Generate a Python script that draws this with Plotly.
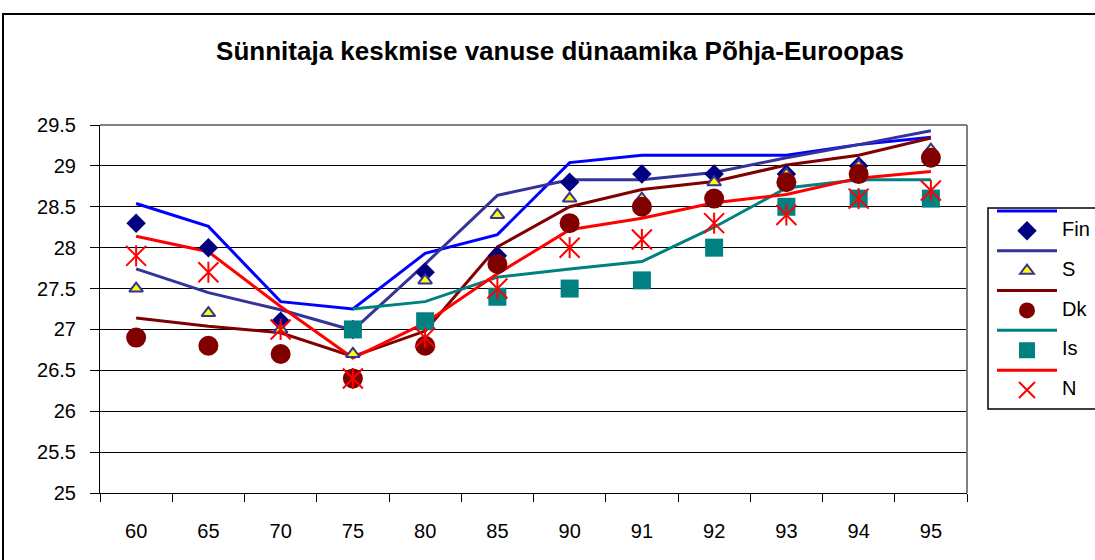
import plotly.graph_objects as go

# ---- data ----
categories = ["60", "65", "70", "75", "80", "85", "90", "91", "92", "93", "94", "95"]

fin_line = [28.54, 28.26, 27.34, 27.25, 27.93, 28.16, 29.04, 29.13, 29.13, 29.13, 29.26, 29.35]
s_line = [27.74, 27.45, 27.24, 26.99, 27.80, 28.64, 28.83, 28.83, 28.92, 29.10, 29.26, 29.43]
dk_line = [27.14, 27.04, 26.96, 26.67, 26.98, 28.01, 28.50, 28.71, 28.81, 29.01, 29.13, 29.34]
is_line = [None, None, None, 27.25, 27.34, 27.64, 27.74, 27.83, 28.25, 28.73, 28.83, 28.83]
n_line = [28.14, 27.95, 27.28, 26.65, 27.08, 27.68, 28.22, 28.36, 28.55, 28.65, 28.85, 28.93]

fin_pts = [28.3, 28.0, 27.1, 27.0, 27.7, 27.9, 28.8, 28.9, 28.9, 28.9, 29.0, 29.1]
s_pts = [27.5, 27.2, 27.0, 26.7, 27.6, 28.4, 28.6, 28.6, 28.8, 28.9, 29.0, 29.2]
dk_pts = [26.9, 26.8, 26.7, 26.4, 26.8, 27.8, 28.3, 28.5, 28.6, 28.8, 28.9, 29.1]
is_pts = [None, None, None, 27.0, 27.1, 27.4, 27.5, 27.6, 28.0, 28.5, 28.6, 28.6]
n_pts = [27.9, 27.7, 27.0, 26.4, 26.9, 27.5, 28.0, 28.1, 28.3, 28.4, 28.6, 28.7]

series_names = ["Fin", "S", "Dk", "Is", "N"]
title_text = "Sünnitaja keskmise vanuse dünaamika Põhja-Euroopas"
y_ticks = [25, 25.5, 26, 26.5, 27, 27.5, 28, 28.5, 29, 29.5]

FONT = "Arial, 'Liberation Sans', sans-serif"
TXT = 20  # text size


def legend_label(s):
    return f'<span style="font-size:{TXT}px">{s}</span>'


fig = go.Figure()

# lines
line_specs = [
    (fin_line, "#0000FF", 1),
    (s_line, "#333399", 3),
    (dk_line, "#800000", 5),
    (is_line, "#008080", 7),
    (n_line, "#FF0000", 9),
]
for vals, col, rank in line_specs:
    fig.add_trace(go.Scatter(
        x=categories, y=vals, mode="lines", name=" ",
        line=dict(color=col, width=3), legendrank=rank,
        connectgaps=False, hoverinfo="skip"))

# markers
fig.add_trace(go.Scatter(
    x=categories, y=fin_pts, mode="markers", name=legend_label(series_names[0]), legendrank=2,
    marker=dict(symbol="diamond", size=15, color="#000080",
                line=dict(color="#000080", width=0))))
fig.add_trace(go.Scatter(
    x=categories, y=s_pts, mode="markers", name=legend_label(series_names[1]), legendrank=4,
    marker=dict(symbol="triangle-up", size=12, color="#FFFF00",
                line=dict(color="#333399", width=2))))
fig.add_trace(go.Scatter(
    x=categories, y=dk_pts, mode="markers", name=legend_label(series_names[2]), legendrank=6,
    marker=dict(symbol="circle", size=20, color="#800000",
                line=dict(color="#800000", width=0))))
fig.add_trace(go.Scatter(
    x=categories, y=is_pts, mode="markers", name=legend_label(series_names[3]), legendrank=8,
    marker=dict(symbol="square", size=18, color="#008080",
                line=dict(color="#008080", width=0))))
fig.add_trace(go.Scatter(
    x=categories, y=n_pts, mode="markers", name=legend_label(series_names[4]), legendrank=10,
    legendgroup="N",
    marker=dict(symbol="x-thin-open", size=20, color="#FF0000",
                line=dict(color="#FF0000", width=2))))
fig.add_trace(go.Scatter(
    x=categories, y=n_pts, mode="markers", name="N", showlegend=False,
    legendgroup="N",
    marker=dict(symbol="line-ns-open", size=15, color="#FF0000",
                line=dict(color="#FF0000", width=2))))

# plot area geometry (px)
L, R, T, B = 100, 967, 125, 493
W, H = 1095, 560
pw, ph = R - L, B - T


def px_x(x):
    return (x - L) / pw


def px_y(y):
    return (B - y) / ph


shapes = [
    # outer chart border
    dict(type="rect", xref="paper", yref="paper",
         x0=px_x(3), x1=px_x(1110), y0=px_y(14), y1=px_y(575),
         line=dict(color="black", width=2), layer="below"),
    # gray top/right plot area border
    dict(type="line", xref="paper", yref="paper", x0=0, x1=1, y0=1, y1=1,
         line=dict(color="#808080", width=2), layer="above"),
    dict(type="line", xref="paper", yref="paper", x0=1, x1=1, y0=0, y1=1,
         line=dict(color="#808080", width=2), layer="above"),
    # legend box
    dict(type="rect", xref="paper", yref="paper",
         x0=px_x(988), x1=px_x(1120), y0=px_y(208), y1=px_y(409),
         line=dict(color="black", width=1.5), fillcolor="white", layer="above"),
]

fig.update_layout(
    width=W, height=H,
    margin=dict(l=L, r=W - R, t=T, b=H - B, autoexpand=False),
    paper_bgcolor="white", plot_bgcolor="white",
    font=dict(family=FONT, color="black", size=TXT),
    title=dict(text="<b>" + title_text + "</b>", xref="container", yref="container",
               x=560 / W, y=1 - 51 / H, xanchor="center", yanchor="middle",
               font=dict(size=26, family=FONT, color="black")),
    shapes=shapes,
    showlegend=True,
    legend=dict(x=px_x(992), y=px_y(196), xanchor="left", yanchor="top",
                bgcolor="rgba(0,0,0,0)", borderwidth=0,
                font=dict(size=13, family=FONT), tracegroupgap=0,
                itemwidth=60),
)

fig.update_xaxes(
    type="category", categoryorder="array", categoryarray=categories,
    range=[-0.5, len(categories) - 0.5], autorange=False,
    showline=True, linecolor="black", linewidth=1,
    ticks="outside", tickson="boundaries", ticklen=8, tickcolor="black",
    ticklabelstandoff=20, showgrid=False, zeroline=False,
    tickfont=dict(size=TXT, family=FONT))
fig.update_yaxes(
    range=[25, 29.5], autorange=False, tickvals=y_ticks, ticktext=[f"{v:g}" for v in y_ticks],
    showline=True, linecolor="black", linewidth=1,
    ticks="outside", ticklen=9, tickcolor="black", ticklabelstandoff=10,
    showgrid=True, gridcolor="black", gridwidth=1, zeroline=False,
    tickfont=dict(size=TXT, family=FONT))

fig.write_html("out.html", config={"displayModeBar": False},
               post_script="document.body.style.margin='0';")
